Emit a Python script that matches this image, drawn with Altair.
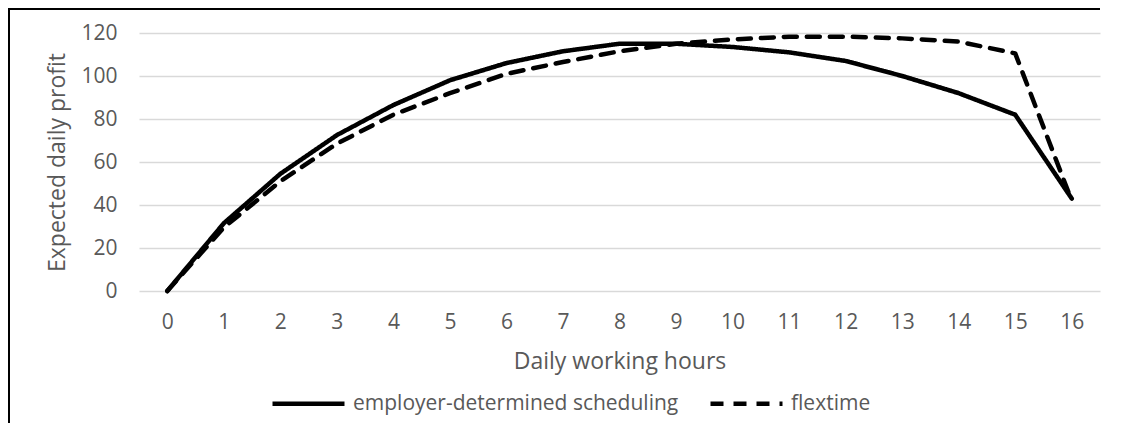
import altair as alt
import pandas as pd

# ---- data ----
hours = list(range(17))
employer = [0, 31.5, 54.5, 72.5, 86.5, 98, 106, 111.5, 115, 115, 113.5, 111, 107, 100, 92, 82, 43]
flextime = [0, 29.5, 51, 68.5, 82, 92, 101, 106.5, 111.5, 115, 117, 118.3, 118.3, 117.5, 116, 110.5, 42]
series_names = ["employer-determined scheduling", "flextime"]
y_ticks = [0, 20, 40, 60, 80, 100, 120]

df = pd.DataFrame({
    "hours": hours * 2,
    "profit": employer + flextime,
    "series": [series_names[0]] * len(hours) + [series_names[1]] * len(hours),
})

FONT = "Open Sans"
GREY = "#595959"
W, H = 961, 258
PAD = {"left": 131, "top": 25, "right": 12, "bottom": 132}

lines = alt.Chart(df).mark_line(
    strokeWidth=4.5, color="black", strokeCap="round", strokeJoin="round"
).encode(
    x=alt.X(
        "hours:O",
        scale=alt.Scale(type="point", padding=0.5),
        axis=alt.Axis(
            title="Daily working hours", labelAngle=0, domain=False, ticks=False, tickSize=0,
            labelPadding=20, labelFontSize=21, labelColor=GREY, labelFont=FONT,
            titleFont=FONT, titleFontSize=23, titleColor=GREY, titleFontWeight="normal",
            titleBaseline="alphabetic", titleY=77, titleX=W / 2, titleAlign="center", grid=False,
        ),
    ),
    y=alt.Y(
        "profit:Q",
        scale=alt.Scale(domain=[0, 120], nice=False),
        axis=alt.Axis(
            values=y_ticks, title="Expected daily profit", domain=False, ticks=False, tickSize=0,
            labelPadding=22, labelFontSize=21, labelColor=GREY, labelFont=FONT,
            grid=True, gridColor="#d9d9d9", gridWidth=1.5,
            titleFont=FONT, titleFontSize=23, titleColor=GREY, titleFontWeight="normal",
            titleX=-75, titleY=H / 2, titleAngle=270, titleBaseline="alphabetic", titleAlign="center",
        ),
    ),
    strokeDash=alt.StrokeDash(
        "series:N",
        scale=alt.Scale(domain=series_names, range=[[1, 0], [13, 10]]),
        legend=alt.Legend(
            title=None, orient="none", legendX=131, legendY=332, direction="horizontal",
            symbolType="stroke", symbolSize=5184, symbolStrokeWidth=4.5, symbolStrokeColor="black",
            labelFont=FONT, labelFontSize=21, labelColor=GREY, labelOffset=6, labelLimit=600,
            columnPadding=22, padding=0,
        ),
    ),
)

# chart-area frame: only its top and left edges fall inside the picture
frame_data = pd.DataFrame({"k": [0]})
frame_top = alt.Chart(frame_data).mark_rule(color="black", strokeWidth=2).encode(
    x=alt.value(-131), x2=alt.value(W), y=alt.value(-24), y2=alt.value(-24)
)
frame_left = alt.Chart(frame_data).mark_rule(color="black", strokeWidth=2).encode(
    x=alt.value(-130), x2=alt.value(-130), y=alt.value(-25), y2=alt.value(H + PAD["bottom"])
)

chart = alt.layer(frame_top, frame_left, lines).properties(
    width=W, height=H, padding=PAD, autosize=alt.AutoSizeParams(type="none")
).configure(background="white").configure_view(stroke=None)

chart.save("out.html", embed_options={"renderer": "svg", "actions": False})
